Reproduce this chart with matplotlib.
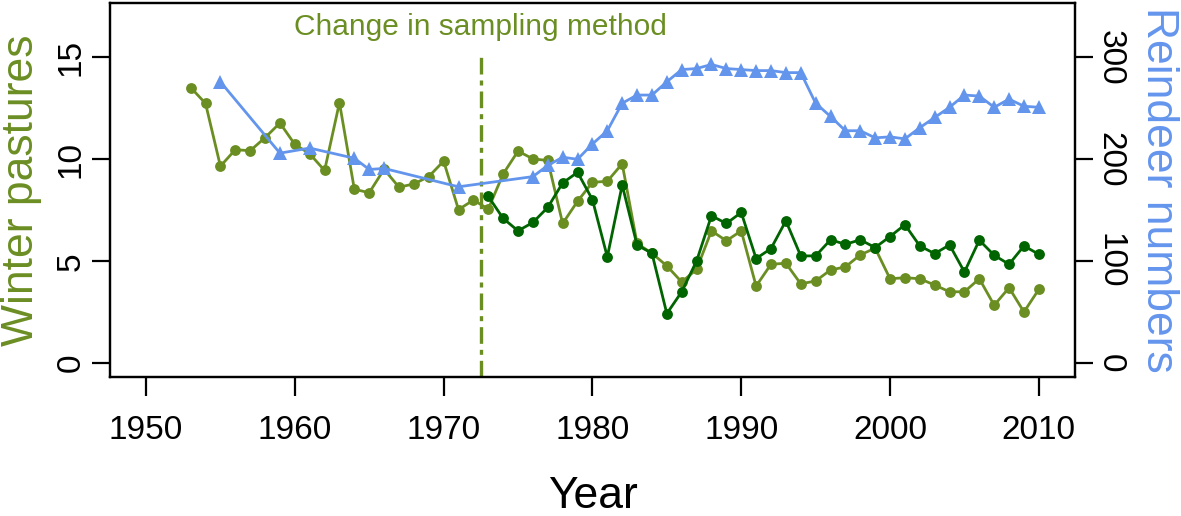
import matplotlib
matplotlib.use("Agg")
import matplotlib.pyplot as plt

# ---------------- data ----------------
years_old = list(range(1953, 2011))
pasture_old = [13.52, 12.74, 9.66, 10.47, 10.42, 11.06, 11.78, 10.73, 10.27, 9.45,
               12.78, 8.53, 8.36, 9.51, 8.63, 8.79, 9.15, 9.91, 7.53, 8.00,
               7.56, 9.28, 10.40, 10.02, 9.94, 6.85, 7.94, 8.87, 8.92, 9.78,
               5.87, 5.39, 4.77, 3.98, 4.60, 6.49, 6.00, 6.49, 3.78, 4.85,
               4.90, 3.89, 4.03, 4.57, 4.72, 5.31, 5.64, 4.14, 4.19, 4.14,
               3.83, 3.50, 3.50, 4.14, 2.84, 3.70, 2.51, 3.62]

years_new = list(range(1973, 2011))
pasture_new = [8.18, 7.10, 6.49, 6.90, 7.64, 8.84, 9.36, 8.02, 5.21, 8.74,
               5.79, 5.39, 2.43, 3.50, 5.01, 7.23, 6.85, 7.39, 5.13, 5.62,
               6.98, 5.26, 5.26, 6.05, 5.83, 6.05, 5.67, 6.21, 6.79, 5.75,
               5.37, 5.80, 4.47, 6.03, 5.29, 4.85, 5.75, 5.34]

years_rd = [1955, 1959, 1961, 1964, 1965, 1966, 1971, 1976, 1977, 1978, 1979,
            1980, 1981, 1982, 1983, 1984, 1985, 1986, 1987, 1988, 1989, 1990,
            1991, 1992, 1993, 1994, 1995, 1996, 1997, 1998, 1999, 2000, 2001,
            2002, 2003, 2004, 2005, 2006, 2007, 2008, 2009, 2010]
reindeer = [276, 206, 211, 201, 190, 191, 173, 183, 194, 202, 200,
            215, 228, 255, 263, 263, 276, 288, 289, 293, 289, 288,
            287, 287, 285, 285, 255, 242, 228, 228, 221, 222, 220,
            231, 241, 251, 263, 262, 251, 259, 252, 251]

x_ticks = [1950, 1960, 1970, 1980, 1990, 2000, 2010]
left_ticks = [0, 5, 10, 15]
right_ticks = [0, 100, 200, 300]
change_year = 1972.5

# ---------------- style ----------------
OLIVE = "#6B8E23"
DKGREEN = "#006400"
BLUE = "#6495ED"
FONT = "Liberation Sans"
plt.rcParams["font.family"] = [FONT, "DejaVu Sans"]

W, H = 1181, 516
fig = plt.figure(figsize=(W / 100, H / 100), dpi=100)
L, R, B, T = 110, 1075, 377, 2.7
ax = fig.add_axes([L / W, 1 - B / H, (R - L) / W, (B - T) / H])
ax2 = ax.twinx()

ax.set_xlim(1947.58, 2012.43)
ax.set_ylim(-0.68, 17.68)
ax2.set_ylim(-13.6, 353.6)

lw = 2.0
ms = 7.8
ax.plot(years_old, pasture_old, color=OLIVE, lw=lw, marker="o", ms=ms,
        markeredgewidth=0, zorder=3)
ax.plot(years_new, pasture_new, color=DKGREEN, lw=lw, marker="o", ms=ms,
        markeredgewidth=0, zorder=4)
ax2.plot(years_rd, reindeer, color=BLUE, lw=lw, marker="^", ms=9.5,
         markeredgewidth=0, zorder=3)

ax.plot([change_year, change_year], [-0.68, 15], color=OLIVE, lw=2.4,
        linestyle=(0, (5, 1.8, 1.5, 1.8)), solid_capstyle="butt",
        dash_capstyle="butt", zorder=2)
ax.text(change_year, 16.1, "Change in sampling method", color=OLIVE,
        fontsize=21.5, ha="center", va="baseline")

for a in (ax, ax2):
    for s in a.spines.values():
        s.set_linewidth(1.6)
        s.set_color("black")
    a.patch.set_visible(False)

ax.set_xticks(x_ticks)
ax.set_xticklabels([str(v) for v in x_ticks])
ax.set_yticks(left_ticks)
ax.set_yticklabels([str(v) for v in left_ticks], rotation=90, va="center")
ax2.set_yticks(right_ticks)
ax2.set_yticklabels([str(v) for v in right_ticks], rotation=270, va="center")

ax.tick_params(axis="x", direction="out", length=13.5, width=1.6,
               labelsize=24, pad=14)
ax.tick_params(axis="y", direction="out", length=13, width=1.6,
               labelsize=24, pad=4)
ax2.tick_params(axis="y", direction="out", length=13, width=1.6,
                labelsize=24, pad=1)

fig.text(33 / W, 1 - 190 / H, "Winter pastures", color=OLIVE, fontsize=32,
         rotation=90, rotation_mode="anchor", ha="center", va="baseline")
fig.text(1147 / W, 1 - 190 / H, "Reindeer numbers", color=BLUE, fontsize=32,
         rotation=270, rotation_mode="anchor", ha="center", va="baseline")
fig.text((L + R) / 2 / W, 1 - 508 / H, "Year", color="black", fontsize=32,
         ha="center", va="baseline")

fig.savefig("out.png", dpi=100)
